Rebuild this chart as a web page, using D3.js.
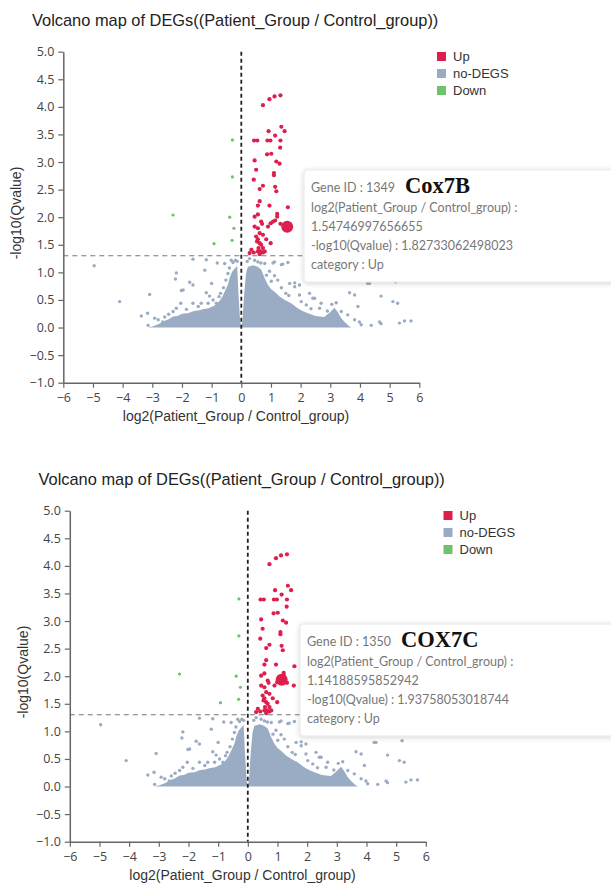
<!DOCTYPE html>
<html>
<head>
<meta charset="utf-8">
<script src="https://cdn.jsdelivr.net/npm/d3@7/dist/d3.min.js"></script>
<style>
  body { margin: 0; background: #fff; }
</style>
</head>
<body>
<div id="volcano"></div>
<script>
// axis ticks
var xTicks = [-6, -5, -4, -3, -2, -1, 0, 1, 2, 3, 4, 5, 6];
var yTicks = [-1, -0.5, 0, 0.5, 1, 1.5, 2, 2.5, 3, 3.5, 4, 4.5, 5];

var legendLabels = ["Up", "no-DEGS", "Down"];
var legendColors = ["#dc1f4c", "#9aacc3", "#6dc26a"];

var qCutoff = 1.30103; // -log10(0.05)

// up-regulated genes [log2FC, -log10Q]
var upPoints = [
    [0.73, 4.03], [0.95, 4.14], [1.12, 4.19], [1.32, 4.21],
    [0.92, 3.56], [1.35, 3.64], [1.46, 3.56], [1.14, 3.48],
    [0.43, 3.39], [0.54, 3.39], [0.88, 3.39], [0.98, 3.39], [1.32, 3.39], [1.31, 3.26],
    [0.87, 3.14], [1.01, 3.15], [1.18, 3.01], [1.29, 2.97], [0.45, 3.03], [0.50, 2.86],
    [1.10, 2.80], [1.10, 2.76], [0.42, 2.68], [0.73, 2.57], [0.62, 2.51], [1.14, 2.55], [1.18, 2.47],
    [0.62, 2.29], [0.95, 2.21], [0.56, 2.21], [1.57, 2.18], [1.21, 2.06], [1.21, 2.01],
    [0.45, 2.01], [0.56, 2.05], [0.67, 1.92], [0.70, 1.88], [0.99, 1.89], [1.07, 1.92],
    [0.45, 1.83], [0.56, 1.80], [0.90, 1.83], [0.62, 1.71], [0.73, 1.68], [0.50, 1.65], [0.56, 1.60],
    [0.99, 1.53], [0.84, 1.60], [0.53, 1.56], [0.62, 1.53], [0.67, 1.50], [0.73, 1.44],
    [0.58, 1.44], [0.65, 1.38], [0.73, 1.36], [0.56, 1.38], [0.34, 1.41], [0.42, 1.36],
    [0.28, 1.35], [0.62, 1.33], [0.79, 1.38], [1.32, 1.88],
    [1.14, 1.94], [1.55, 1.83]
];

// down-regulated genes
var downPoints = [
    [-2.30, 2.04], [-0.92, 1.52], [-0.39, 2.00], [-0.31, 1.58],
    [-0.25, 1.80], [-0.30, 2.73], [-0.30, 3.40]
];

// non-significant genes outside the dense cloud
var nodegPoints = [
    [-4.96, 1.12], [-4.10, 0.47], [-3.09, 0.60], [-3.37, 0.21], [-3.16, 0.26], [-3.14, 0.04],
    [-2.92, 0.17], [-2.80, 0.14], [-2.58, 0.19], [-2.30, 0.29], [-2.19, 0.35],
    [-2.19, 0.99], [-2.22, 0.88], [-1.74, 0.82], [-1.63, 0.77], [-2.02, 0.67], [-1.96, 0.68],
    [-1.63, 1.24], [-1.18, 1.23], [-1.23, 1.04], [-0.81, 1.17], [-0.56, 1.16], [-0.34, 1.22],
    [-1.18, 0.63], [-1.07, 0.57], [-2.04, 0.44], [-1.63, 0.44], [-1.35, 0.44], [-1.12, 0.44],
    [-0.84, 0.44], [-0.95, 0.50], [-0.70, 0.62], [-0.60, 0.72], [-0.52, 0.86], [-0.45, 0.98],
    [-0.40, 1.08], [-0.28, 1.18], [-0.20, 1.22], [-0.14, 1.20], [-1.45, 0.38], [-1.85, 0.33],
    [-2.45, 0.24], [-2.65, 0.10], [-1.00, 0.80], [-0.75, 0.56],
    [0.20, 1.20], [0.28, 1.25], [0.45, 1.22], [0.56, 1.19], [0.66, 1.17], [0.79, 1.16],
    [1.07, 1.17], [1.12, 1.19], [1.35, 1.14], [1.40, 1.15], [1.57, 1.18],
    [0.95, 1.02], [1.12, 0.94], [1.23, 0.86], [0.85, 0.95], [1.01, 0.84],
    [1.63, 0.80], [1.80, 0.74], [1.96, 0.59], [1.80, 0.81], [1.96, 0.77], [1.35, 0.72],
    [1.50, 0.62], [1.60, 0.58], [2.30, 0.62], [2.47, 0.53], [2.02, 0.47], [2.19, 0.41],
    [2.41, 0.53], [2.64, 0.35], [2.69, 0.44], [2.35, 0.34], [2.90, 0.30], [3.05, 0.42],
    [3.20, 0.45], [3.37, 0.29], [3.59, 0.23], [3.25, 0.10], [3.82, 0.14], [4.04, 0.05],
    [3.65, 0.63], [3.82, 0.59], [3.93, 0.38], [4.26, 0.80], [4.32, 0.80], [4.66, 0.10],
    [5.20, 0.83], [4.71, 0.57], [5.11, 0.47], [5.27, 0.44],
    [3.98, 0.10], [4.38, 0.04], [4.71, 0.07], [5.33, 0.08], [5.50, 0.12], [5.72, 0.12]
];

// upper edge of the dense no-DEG cloud (left and right of zero)
var cloudLeft = [
    [-3.15, 0], [-3.0, 0.02], [-2.8, 0.06], [-2.6, 0.12], [-2.45, 0.15], [-2.3, 0.20], [-2.15, 0.21],
    [-2.0, 0.25], [-1.8, 0.26], [-1.6, 0.30], [-1.45, 0.31], [-1.3, 0.33], [-1.1, 0.35], [-0.9, 0.40],
    [-0.75, 0.47], [-0.65, 0.55], [-0.55, 0.66], [-0.45, 0.78], [-0.38, 0.92], [-0.30, 1.02],
    [-0.20, 1.08], [-0.14, 1.12], [-0.10, 0.65], [-0.04, 0.12], [0, 0]
];
var cloudRight = [
    [0, 0], [0.04, 0.12], [0.10, 0.63], [0.16, 0.98], [0.22, 1.10], [0.40, 1.13], [0.55, 1.10],
    [0.67, 1.05], [0.80, 0.88], [0.90, 0.77], [1.0, 0.70], [1.12, 0.65], [1.30, 0.56], [1.50, 0.49],
    [1.68, 0.44], [1.90, 0.35], [2.10, 0.29], [2.25, 0.26], [2.50, 0.21], [2.80, 0.19], [3.0, 0.28],
    [3.14, 0.36], [3.25, 0.28], [3.37, 0.17], [3.50, 0.09], [3.60, 0.04], [3.70, 0]
];

// genes shown in the hover boxes
var geneIds = [1349, 1350];
var geneNames = ["Cox7B", "COX7C"];
var geneFC = ["1.54746997656655", "1.14188595852942"];
var geneQ = ["1.82733062498023", "1.93758053018744"];

var titleText = "Volcano map of DEGs((Patient_Group / Control_group))";
var xLabel = "log2(Patient_Group / Control_group)";
var yLabel = "-log10(Qvalue)";

// layout
var W = 611, H = 883;
var plotLeft = 63.3, plotTop = 51.7, plotW = 356, plotH = 331;
var panels = [
    {dx: 0, dy: 0, tipLeft: 304, tipTop: 170},
    {dx: 6.5, dy: 459, tipLeft: 300, tipTop: 624}
];

var svg = d3.select("#volcano")
    .append("svg")
    .attr("width", W)
    .attr("height", H)
    .style("font-family", "'Liberation Sans', Arial, sans-serif");

svg.append("rect").attr("width", W).attr("height", H).attr("fill", "#fff");

var defs = svg.append("defs");
defs.append("filter")
    .attr("id", "tipShadow")
    .attr("x", "-10%").attr("y", "-20%").attr("width", "130%").attr("height", "150%")
    .append("feDropShadow")
    .attr("dx", 0).attr("dy", 1)
    .attr("stdDeviation", 2.5)
    .attr("flood-color", "#000")
    .attr("flood-opacity", 0.18);

panels.forEach(function(p, k) {
    var g = svg.append("g")
        .attr("transform", "translate(" + p.dx + "," + p.dy + ")");

    var x = d3.scaleLinear().domain([-6, 6]).range([plotLeft, plotLeft + plotW]);
    var y = d3.scaleLinear().domain([-1, 5]).range([plotTop + plotH, plotTop]);

    // title
    g.append("text")
        .attr("x", 32)
        .attr("y", 26)
        .style("font-size", "16.4px")
        .style("fill", "#222")
        .text(titleText);

    // dense cloud
    var area = d3.area()
        .x(function(d) { return x(d[0]); })
        .y0(y(0))
        .y1(function(d) { return y(d[1]); });
    [cloudLeft, cloudRight].forEach(function(c) {
        g.append("path")
            .datum(c)
            .attr("d", area)
            .attr("fill", legendColors[1]);
    });

    g.append("g").selectAll("circle")
        .data(nodegPoints)
        .enter()
        .append("circle")
        .attr("cx", function(d) { return x(d[0]); })
        .attr("cy", function(d) { return y(d[1]); })
        .attr("r", 1.7)
        .attr("fill", legendColors[1]);

    g.append("g").selectAll("circle")
        .data(downPoints)
        .enter()
        .append("circle")
        .attr("cx", function(d) { return x(d[0]); })
        .attr("cy", function(d) { return y(d[1]); })
        .attr("r", 1.6)
        .attr("fill", legendColors[2]);

    g.append("g").selectAll("circle")
        .data(upPoints)
        .enter()
        .append("circle")
        .attr("cx", function(d) { return x(d[0]); })
        .attr("cy", function(d) { return y(d[1]); })
        .attr("r", 2.1)
        .attr("fill", legendColors[0]);

    // threshold lines
    g.append("line")
        .attr("x1", x(-6)).attr("x2", x(6))
        .attr("y1", y(qCutoff)).attr("y2", y(qCutoff))
        .attr("stroke", "#777")
        .attr("stroke-width", 1.2)
        .attr("stroke-dasharray", "5,4");
    g.append("line")
        .attr("x1", x(0)).attr("x2", x(0))
        .attr("y1", y(5)).attr("y2", y(-1))
        .attr("stroke", "#222")
        .attr("stroke-width", 1.8)
        .attr("stroke-dasharray", "4,3");

    // highlighted gene
    g.append("circle")
        .attr("cx", x(+geneFC[k]))
        .attr("cy", y(+geneQ[k]))
        .attr("r", 6)
        .attr("fill", legendColors[0]);

    // axes
    var yAxis = g.append("g")
        .attr("transform", "translate(" + plotLeft + ",0)")
        .call(d3.axisLeft(y).tickValues(yTicks).tickFormat(d3.format(".1f"))
            .tickSize(5).tickSizeOuter(0).tickPadding(4));
    var xAxis = g.append("g")
        .attr("transform", "translate(0," + (plotTop + plotH) + ")")
        .call(d3.axisBottom(x).tickValues(xTicks).tickFormat(d3.format("d"))
            .tickSize(5).tickSizeOuter(0).tickPadding(5));
    [yAxis, xAxis].forEach(function(a) {
        a.select(".domain").attr("stroke", "#666").attr("stroke-width", 1.5);
        a.selectAll(".tick line").attr("stroke", "#666").attr("stroke-width", 1.2);
        a.selectAll(".tick text")
            .style("font-family", "'Open Sans', sans-serif")
            .style("font-size", "12.5px")
            .style("fill", "#444");
    });

    g.append("text")
        .attr("x", 236)
        .attr("y", 421)
        .attr("text-anchor", "middle")
        .style("font-size", "14px")
        .style("fill", "#333")
        .text(xLabel);

    g.append("text")
        .attr("transform", "translate(21,213) rotate(-90)")
        .attr("text-anchor", "middle")
        .style("font-size", "14px")
        .style("fill", "#333")
        .text(yLabel);

    // legend
    var leg = g.append("g").attr("transform", "translate(437,52)");
    legendLabels.forEach(function(lab, i) {
        leg.append("rect")
            .attr("x", 0).attr("y", i * 17)
            .attr("width", 9).attr("height", 9)
            .attr("fill", legendColors[i]);
        leg.append("text")
            .attr("x", 16).attr("y", i * 17 + 9)
            .style("font-size", "13px")
            .style("fill", "#333")
            .text(lab);
    });

    // hover box
    var tip = svg.append("g").attr("transform", "translate(" + p.tipLeft + "," + p.tipTop + ")");
    tip.append("rect")
        .attr("width", 340).attr("height", 112)
        .attr("rx", 3)
        .attr("fill", "#fff")
        .attr("stroke", "#e8e8e8")
        .attr("filter", "url(#tipShadow)");
    var lines = [
        "Gene ID : " + geneIds[k],
        "log2(Patient_Group / Control_group) :",
        geneFC[k],
        "-log10(Qvalue) : " + geneQ[k],
        "category : Up"
    ];
    var lineY = [22, 41.5, 61, 80, 99];
    var first;
    lines.forEach(function(t, i) {
        var tx = tip.append("text")
            .attr("x", 7).attr("y", lineY[i])
            .style("font-family", "Lato, sans-serif")
            .style("font-size", "12.5px")
            .style("fill", "#777")
            .text(t);
        if (i === 0) first = tx;
    });
    tip.append("text")
        .attr("x", 7 + first.node().getComputedTextLength() + 10)
        .attr("y", 23)
        .style("font-family", "'Liberation Serif', 'Times New Roman', serif")
        .style("font-weight", "bold")
        .style("font-size", "22.5px")
        .style("fill", "#111")
        .text(geneNames[k]);
});
</script>
</body>
</html>
